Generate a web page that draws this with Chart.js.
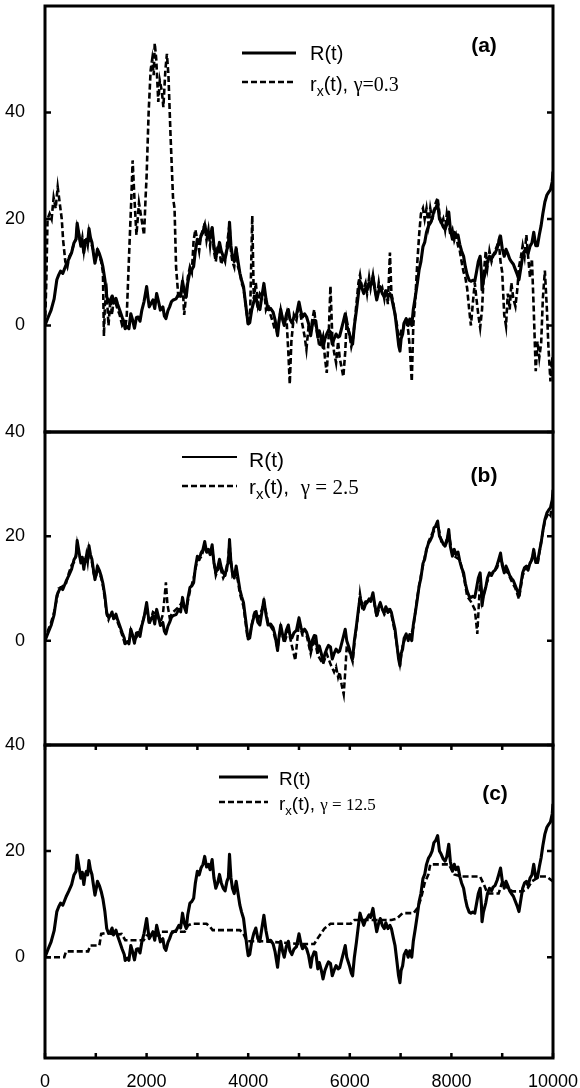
<!DOCTYPE html>
<html><head><meta charset="utf-8">
<script src="https://cdn.jsdelivr.net/npm/chart.js@4/dist/chart.umd.min.js"></script>
<style>
html,body{margin:0;padding:0;background:#fff;}
#wrap{position:relative;width:580px;height:1088px;background:#fff;}
canvas{position:absolute;left:0;top:0;}
</style></head><body>
<div id="wrap">
<canvas id="cA" width="580" height="1088"></canvas>
<canvas id="cB" width="580" height="1088"></canvas>
<canvas id="cC" width="580" height="1088"></canvas>
</div>
<script>
// ---------- data ----------
const xTickLabels = [0, 2000, 4000, 6000, 8000, 10000];
const xMinorTicks = [0, 1000, 2000, 3000, 4000, 5000, 6000, 7000, 8000, 9000, 10000];
const yTickLabels = [0, 20, 40];

// R(t): same random-walk in all three panels  [t, value]
const seriesR = [[0,0],[60,1.5],[120,2.9],[180,5],[233,8.6],[270,9.5],[306,10.2],[350,9.8],[415,11.4],[470,12.5],[524,13.7],[570,15.5],[611,16.2],[633,19.2],[670,17],[706,14.9],[735,16],[764,13.7],[790,15.5],[815,16.2],[840,15.5],[866,18.2],[895,16.5],[924,15.6],[955,13.5],[983,11.7],[1010,13],[1033,14.3],[1070,13.5],[1106,12.4],[1140,11],[1179,8.6],[1215,5.4],[1250,4.5],[1288,4.8],[1320,5.5],[1350,4.2],[1397,5.1],[1430,4],[1470,2.9],[1520,1.5],[1560,0.5],[1579,-0.6],[1620,-0.2],[1652,-0.6],[1689,2.2],[1720,1.2],[1761,-0.5],[1800,1.5],[1834,1.6],[1870,0.8],[1907,2.9],[1950,4.5],[2001,7.3],[2030,5],[2052,3.5],[2090,4.2],[2125,4.8],[2160,3.2],[2198,6],[2235,4.5],[2271,2.9],[2320,3.5],[2350,1.8],[2380,1.3],[2420,2.8],[2453,3.5],[2490,4.5],[2525,4.8],[2580,5],[2635,6],[2670,5.5],[2707,8.3],[2740,6.5],[2780,5.4],[2810,8],[2853,10.2],[2890,10.5],[2926,11.1],[2960,14],[2999,16.2],[3035,15.5],[3071,16.8],[3110,17.5],[3144,19],[3180,17],[3217,17.5],[3250,16.5],[3290,18.4],[3325,15],[3362,13],[3400,14],[3435,15.6],[3470,14],[3508,13],[3545,12.5],[3581,14.3],[3610,15],[3632,19.4],[3660,15],[3690,13],[3725,12],[3763,14.3],[3800,12],[3836,9.8],[3870,8.5],[3908,7.3],[3950,4],[3981,1.6],[4000,0.3],[4030,0.5],[4070,3],[4110,4.5],[4150,5.5],[4190,3.5],[4230,3],[4270,5.5],[4309,7.9],[4350,5],[4390,3],[4440,3.2],[4490,2.5],[4530,1],[4578,-1.9],[4610,1],[4640,3],[4680,1],[4710,0],[4750,2],[4790,3],[4820,1.2],[4860,0.5],[4900,1.5],[4950,2],[5000,4.4],[5040,2.5],[5070,1.6],[5110,2.2],[5150,1.6],[5190,0.3],[5230,-1.9],[5260,0],[5300,1],[5330,0.9],[5370,-2.2],[5400,-1],[5440,-2.5],[5473,-4.1],[5510,-2.5],[5546,-1.6],[5580,-0.9],[5620,-1.2],[5655,-3.5],[5690,-2.5],[5730,-1.6],[5770,-2.2],[5800,-2],[5840,-0.5],[5880,1],[5910,2.2],[5940,0],[5990,-1.5],[6030,-3],[6055,-3.5],[6090,0],[6130,2.8],[6170,6],[6201,8.3],[6240,7],[6275,6],[6310,7],[6340,7.3],[6380,8],[6410,7.5],[6456,9.2],[6490,7],[6530,4.8],[6570,6.5],[6600,7.3],[6640,6],[6680,5.4],[6710,6.5],[6750,5.4],[6790,6],[6819,5.4],[6860,3.5],[6890,2.2],[6930,-1],[6960,-3.5],[6987,-4.8],[7010,-2.5],[7040,-1.6],[7070,0.5],[7110,1.3],[7150,0],[7180,1.2],[7220,0],[7250,3],[7290,5.4],[7330,8],[7365,10.5],[7400,12],[7440,14.8],[7474,15.6],[7510,17.5],[7550,18.7],[7584,19.2],[7620,20],[7656,21.6],[7690,22],[7729,22.9],[7765,20],[7800,19.4],[7840,18.5],[7876,18.1],[7910,19],[7948,21.3],[7980,18],[8020,16.2],[8057,17.5],[8090,16.5],[8130,17],[8166,15.2],[8200,14],[8240,13],[8275,11],[8310,9.5],[8350,8.5],[8384,8.3],[8420,8.5],[8460,8.3],[8493,10],[8530,12],[8566,13],[8590,10],[8603,6.7],[8630,8.5],[8676,10.2],[8710,12],[8749,13],[8790,12.5],[8820,13.2],[8858,13.5],[8900,14.5],[8930,15.5],[8967,16.8],[9000,14.5],[9040,13],[9075,14.3],[9110,13.5],[9148,12.5],[9180,12],[9220,11.5],[9260,10.5],[9300,9.5],[9330,8.6],[9370,11],[9403,13],[9440,14],[9476,14.3],[9510,13.5],[9548,14.9],[9585,15.5],[9621,17.5],[9660,15],[9694,15],[9730,17],[9767,18.8],[9800,21],[9840,23.2],[9880,24.5],[9912,25],[9950,25.5],[9985,27],[10000,28.9]];

// r_x(t), gamma = 0.3   (panel a)
const seriesRxA = [[0,0],[25,8],[50,20],[90,21],[130,20],[170,24],[210,22],[250,26],[290,23],[330,20],[357,16],[400,12],[440,11],[480,13],[524,13.7],[570,15.5],[611,16.2],[633,18.5],[670,17],[706,15],[735,16.5],[764,14],[790,16],[815,16],[840,15],[866,17.5],[895,16],[924,15],[955,14],[983,12],[1010,13],[1033,14],[1070,13],[1106,12],[1140,10],[1160,-2],[1179,4],[1215,6],[1250,0],[1288,5],[1320,2],[1350,5],[1397,4],[1430,3],[1470,2],[1520,0],[1560,0.5],[1579,-0.6],[1610,2],[1650,12],[1700,24],[1725,31],[1760,24],[1800,17],[1850,23],[1900,20],[1950,17],[1980,24],[2000,28],[2040,40],[2080,48],[2110,50],[2140,47],[2160,53],[2190,50],[2230,42],[2260,46],[2300,44],[2330,41],[2370,48],[2400,51],[2430,47],[2470,36],[2520,24],[2550,22],[2580,11],[2620,6],[2660,5],[2707,8],[2740,2],[2780,6],[2810,9],[2853,11],[2890,10],[2926,16],[2960,18],[2999,16],[3035,14],[3071,17],[3110,18],[3144,19],[3180,16],[3217,18],[3250,15],[3290,18.4],[3325,14],[3362,12],[3400,15],[3435,14],[3470,11.5],[3508,13],[3545,12],[3581,15],[3632,19],[3660,14],[3690,12],[3725,11],[3763,15],[3800,11],[3836,10],[3870,8],[3908,7],[3950,4],[3981,1.5],[4000,0],[4040,3],[4080,20.6],[4110,5],[4150,8],[4190,4],[4230,6],[4270,5.5],[4309,7],[4350,3],[4390,4],[4440,2],[4490,0.5],[4530,-1],[4578,-1],[4610,1],[4640,3],[4680,1],[4710,0.5],[4750,2],[4790,-5],[4818,-11],[4850,-3],[4900,2],[4950,1],[5000,4],[5040,1.5],[5070,0],[5110,-2],[5146,-4.5],[5190,0],[5230,-1],[5260,1],[5300,3],[5330,0],[5370,-2],[5400,-4],[5440,-3],[5473,-2],[5510,-6],[5546,-8.9],[5580,-3],[5619,7.4],[5655,-2],[5690,-5],[5730,-7],[5770,-3],[5800,-6],[5840,-8],[5873,-9.6],[5910,-5],[5940,1],[5990,-1.5],[6030,-4],[6055,-3],[6090,0],[6130,4],[6170,8],[6201,9.5],[6240,7],[6275,7],[6310,8],[6340,6],[6380,9],[6410,7],[6456,9.5],[6490,7],[6530,5],[6570,8],[6600,6],[6640,7],[6680,5],[6710,7],[6750,4],[6790,13.7],[6819,6],[6860,4],[6890,2],[6930,0],[6960,-3],[6987,-2],[7010,-1],[7040,-1],[7070,0.5],[7110,1],[7150,-1],[7180,-4],[7220,-10.5],[7250,0],[7290,5],[7330,12],[7365,17],[7400,21],[7440,22],[7474,20],[7510,22],[7550,19],[7584,22],[7620,20],[7656,21],[7690,23],[7729,24],[7765,21],[7800,19],[7840,20],[7876,18],[7910,21],[7948,19],[7980,17],[8020,18],[8057,16],[8090,17],[8130,15],[8166,14],[8200,12],[8240,10],[8275,9],[8310,7],[8350,3],[8384,0],[8420,4],[8460,8],[8493,5],[8530,2],[8566,-0.4],[8603,3],[8640,10],[8676,14],[8710,11],[8749,14],[8790,12],[8820,13],[8858,14],[8900,15],[8930,16],[8967,12],[9000,10],[9040,2],[9075,-0.1],[9110,6],[9148,3],[9180,8],[9220,5],[9260,3.6],[9300,7],[9330,11],[9370,13],[9403,15],[9440,13],[9476,17],[9510,13],[9548,9],[9585,12.5],[9621,3],[9660,-8.6],[9694,-3],[9730,-6],[9767,-3.3],[9800,5],[9840,10.3],[9880,3],[9912,-4.5],[9950,-10.5],[9985,-6],[10000,-10]];

// r_x(t), gamma = 2.5   (panel b)
const seriesRxB = [[0,0],[60,2],[120,3.5],[180,5.5],[233,8],[270,10],[306,10],[350,10.5],[415,11],[470,13],[524,14.5],[570,15],[611,16.5],[633,18.5],[670,16.5],[706,15.5],[735,15],[764,14.5],[790,15],[815,16.5],[840,15],[866,17.5],[895,16],[924,15],[955,13],[983,12],[1010,12.5],[1033,14],[1070,13],[1106,12],[1140,10.5],[1179,8],[1215,5],[1250,4],[1288,5],[1320,5],[1350,4.5],[1397,4.5],[1430,3.5],[1470,2.5],[1520,1],[1579,-0.8],[1652,-0.3],[1689,2],[1761,0],[1834,1.2],[1907,3],[2001,6.5],[2052,3],[2125,5.5],[2198,5],[2271,3.5],[2320,5],[2350,8],[2380,11.2],[2410,7],[2453,4.5],[2525,5.5],[2635,6.5],[2707,7.5],[2780,6],[2853,9.5],[2926,12],[2999,15.5],[3071,16],[3144,18],[3217,16.5],[3290,17.5],[3362,12.5],[3435,14.5],[3508,12],[3581,13.5],[3632,18.5],[3690,12.5],[3763,13.5],[3836,9],[3908,6.5],[3981,1],[4030,1],[4110,5],[4150,6],[4190,4],[4270,6],[4309,7.5],[4390,3.5],[4490,2],[4578,-1.5],[4640,2.5],[4710,-0.5],[4790,2],[4860,-1],[4927,-3.8],[5000,3.5],[5070,1],[5150,1],[5230,-2.5],[5300,0.5],[5370,-2.8],[5473,-4.5],[5546,-2.5],[5620,-4.5],[5690,-6],[5730,-5],[5770,-7],[5800,-6],[5840,-8.5],[5880,-10.3],[5910,-6],[5940,-1],[5990,-2],[6055,-4],[6090,-0.5],[6170,5.5],[6201,9],[6240,6.5],[6310,7.5],[6380,7.5],[6456,8.5],[6530,4.5],[6600,7],[6680,5],[6750,6],[6819,5],[6890,1.5],[6960,-3],[6987,-4.5],[7040,-1],[7110,1],[7180,0.5],[7250,2.5],[7330,8.5],[7400,12.5],[7474,16],[7550,19],[7620,20.5],[7690,21.5],[7729,22.5],[7800,19],[7876,18.5],[7948,20.5],[8020,16.5],[8090,16],[8166,15.5],[8240,12.5],[8310,8.5],[8384,7.5],[8460,6],[8493,3],[8510,1.3],[8530,5],[8566,12],[8603,7.5],[8676,10.5],[8749,12.5],[8820,13],[8900,14],[8967,16],[9040,13.5],[9110,13],[9180,11.5],[9260,10],[9330,8],[9403,12.5],[9476,14],[9548,14.5],[9621,17],[9694,14.5],[9767,19],[9840,23],[9912,24.5],[9950,24],[10000,28]];

// r_x(t), gamma = 12.5  (panel c)
const seriesRxC = [[0,0],[378,0],[415,1.1],[850,1.1],[890,2.2],[1070,2.2],[1106,4.4],[1215,4.6],[1400,4.2],[1507,4.4],[1580,3.2],[1943,3.2],[2001,4.1],[2250,4.1],[2300,4.8],[2750,4.8],[2817,6],[2890,6.3],[3180,6.3],[3250,5.7],[3300,5.1],[3836,5.1],[3908,4.4],[3950,3.5],[4000,3],[4300,3],[4600,2.8],[5000,2.5],[5300,2.5],[5364,3.5],[5500,5.4],[5619,6.3],[6019,6.3],[6092,7],[6820,7],[6929,7.3],[7038,8.3],[7256,8.3],[7329,9.2],[7400,11],[7474,14],[7547,15.6],[7584,17.5],[7948,17.5],[8057,15.6],[8202,15.2],[8566,15.2],[8639,13.7],[8712,12],[8930,12],[9003,14.3],[9112,13],[9200,12.4],[9400,12.4],[9500,13],[9585,14.3],[9731,15.2],[9876,15.2],[10000,14.3]];

// ---------- drawing ----------
const SANS = '"Liberation Sans", Arial, Helvetica, sans-serif';
const SERIF = '"Liberation Serif", "Times New Roman", serif';
const toXY = arr => arr.map(p => ({x: p[0], y: p[1]}));

function drawRich(ctx, x, y, parts) {
  ctx.textAlign = 'left'; ctx.textBaseline = 'alphabetic'; ctx.fillStyle = '#000';
  for (const p of parts) { ctx.font = p.font; ctx.fillText(p.t, x, y + (p.dy || 0)); x += ctx.measureText(p.t).width; }
}

const framePlugin = {
  id: 'frame',
  afterDraw(chart, args, o) {
    const {ctx, chartArea: a, scales: {x, y}} = chart;
    ctx.save();
    ctx.strokeStyle = '#000'; ctx.lineWidth = 3;
    ctx.strokeRect(a.left, a.top, a.width, a.height);
    ctx.lineWidth = 2.5;
    ctx.beginPath();
    for (const v of yTickLabels) {
      const py = y.getPixelForValue(v);
      ctx.moveTo(a.left, py); ctx.lineTo(a.left + 6, py);
      ctx.moveTo(a.right, py); ctx.lineTo(a.right - 6, py);
    }
    if (o.xTicks) {
      for (const v of xMinorTicks) {
        const px = x.getPixelForValue(v);
        ctx.moveTo(px, a.top); ctx.lineTo(px, a.top + 5);
        ctx.moveTo(px, a.bottom); ctx.lineTo(px, a.bottom - 5);
      }
    }
    ctx.stroke();
    // legend
    const L = o.legend;
    ctx.lineWidth = L.solidW; ctx.setLineDash([]);
    ctx.beginPath(); ctx.moveTo(L.x1, L.y1); ctx.lineTo(L.x2, L.y1); ctx.stroke();
    ctx.lineWidth = L.dashW; ctx.setLineDash([6, 3]);
    ctx.beginPath(); ctx.moveTo(L.x1, L.y2); ctx.lineTo(L.x2, L.y2); ctx.stroke();
    ctx.setLineDash([]);
    drawRich(ctx, L.tx, L.b1, [{t: 'R(t)', font: L.size + 'px ' + SANS}]);
    drawRich(ctx, L.tx, L.b2, [
      {t: 'r', font: L.size + 'px ' + SANS},
      {t: 'x', font: Math.round(L.size * 0.7) + 'px ' + SANS, dy: 5},
      {t: '(t),' + L.gap, font: L.size + 'px ' + SANS},
      {t: L.gamma, font: L.gsize + 'px ' + SERIF}
    ]);
    ctx.font = 'bold ' + L.tagSize + 'px ' + SANS;
    ctx.textAlign = 'center'; ctx.textBaseline = 'alphabetic';
    ctx.fillText(L.tag, L.tagX, L.tagY);
    ctx.restore();
  }
};

function makePanel(id, rx, yMin, yMax, padTop, padBottom, showX, lw, legend) {
  return new Chart(document.getElementById(id), {
    type: 'line',
    data: {datasets: [
      {data: toXY(seriesR), borderColor: '#000', borderWidth: lw + 0.5, pointRadius: 0, tension: 0, fill: false, borderJoinStyle: 'round'},
      {data: toXY(rx), borderColor: '#000', borderWidth: lw, borderDash: [6, 3], pointRadius: 0, tension: 0, fill: false}
    ]},
    options: {
      responsive: false, animation: false, events: [], parsing: true,
      layout: {padding: {top: padTop, bottom: padBottom, left: 0, right: 27}},
      plugins: {legend: {display: false}, tooltip: {enabled: false}, frame: {xTicks: showX, legend: legend}},
      scales: {
        x: {
          type: 'linear', min: 0, max: 10000, display: showX,
          grid: {display: false}, border: {display: false},
          afterBuildTicks: s => { s.ticks = xTickLabels.map(v => ({value: v})); },
          afterFit: s => { s.height = showX ? 30 : 0; s.paddingLeft = 0; s.paddingRight = 0; },
          ticks: {color: '#000', font: {family: SANS, size: 18}, padding: 5, maxRotation: 0, autoSkip: false, callback: v => String(v)}
        },
        y: {
          type: 'linear', min: yMin, max: yMax,
          grid: {display: false}, border: {display: false},
          afterBuildTicks: s => { s.ticks = yTickLabels.map(v => ({value: v})); },
          afterFit: s => { s.width = 45; s.paddingTop = 0; s.paddingBottom = 0; },
          ticks: {color: '#000', font: {family: SANS, size: 18}, padding: 12, callback: v => String(v)}
        }
      }
    },
    plugins: [framePlugin]
  });
}

makePanel('cA', seriesRxA, -20, 60, 6, 1088 - 432, false, 2.6,
  {x1: 242, x2: 296, y1: 53, y2: 82, solidW: 3, dashW: 2.5, tx: 310, b1: 60, b2: 91, size: 20, gap: ' ', gamma: 'γ=0.3', gsize: 20, tag: '(a)', tagX: 484, tagY: 52, tagSize: 21});
makePanel('cB', seriesRxB, -20, 40, 432, 1088 - 745, false, 2.5,
  {x1: 182, x2: 237, y1: 457, y2: 486, solidW: 2, dashW: 2.5, tx: 249, b1: 467, b2: 494, size: 21, gap: '  ', gamma: 'γ = 2.5', gsize: 21, tag: '(b)', tagX: 484, tagY: 482, tagSize: 21});
makePanel('cC', seriesRxC, -19, 40, 745, 0, true, 2.6,
  {x1: 219, x2: 268, y1: 777, y2: 802, solidW: 3, dashW: 2.5, tx: 279, b1: 785, b2: 810, size: 19, gap: ' ', gamma: 'γ = 12.5', gsize: 17, tag: '(c)', tagX: 495, tagY: 800, tagSize: 21});
</script>
</body></html>
